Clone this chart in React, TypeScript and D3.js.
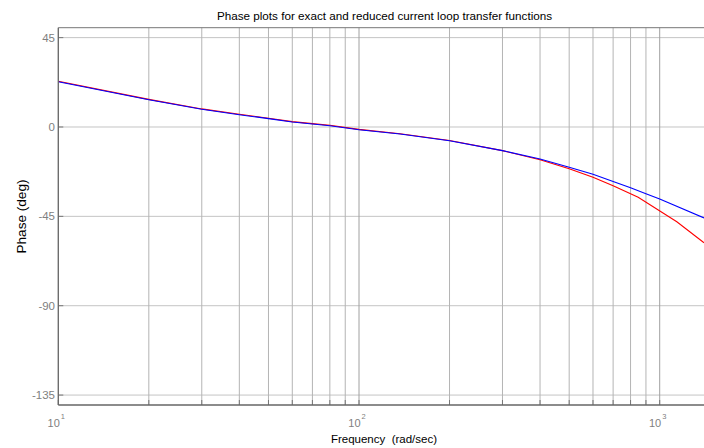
import React from "react";
import * as d3 from "d3";

const W = 704;
const H = 448;

const titleText = "Phase plots for exact and reduced current loop transfer functions";
const xLabelText = "Frequency  (rad/sec)";
const yLabelText = "Phase (deg)";

const yTicks = [45, 0, -45, -90, -135];
const xDecades = [10, 100, 1000];
const xDecadeExps = ["1", "2", "3"];
const xMinorTicks = [20, 30, 40, 50, 60, 70, 80, 90, 200, 300, 400, 500, 600, 700, 800, 900];

// blue curve
const freqBlue = [10, 20, 30, 40, 50, 60, 70, 80, 100, 137, 200, 300, 400, 500, 600, 700, 800, 900, 1000, 1404];
const phaseBlue = [22.8, 13.7, 8.9, 6.2, 4.2, 2.5, 1.5, 0.65, -1.4, -3.5, -6.9, -11.9, -16.1, -20.3, -23.8, -27.5, -30.6, -33.6, -36.3, -45.8];

// red curve
const freqRed = [10, 20, 30, 40, 50, 60, 70, 80, 100, 137, 200, 300, 400, 500, 600, 700, 848, 1140, 1404];
const phaseRed = [23.0, 13.9, 9.1, 6.4, 4.4, 2.7, 1.7, 0.85, -1.2, -3.4, -6.8, -11.9, -16.5, -21.0, -25.3, -29.6, -35.4, -47.7, -58.3];

export default function App() {
  const left = 58.3;
  const top = 27.7;
  const bottom = 405;
  const right = 710;

  const x = d3.scaleLog().domain([10, 1000]).range([left, 659.7]);
  const y = d3.scaleLinear().domain([-140, 50]).range([bottom, top]);

  const line = d3
    .line<[number, number]>()
    .x((d) => x(d[0]))
    .y((d) => y(d[1]));

  const blueData: [number, number][] = freqBlue.map((f, i) => [f, phaseBlue[i]]);
  const redData: [number, number][] = freqRed.map((f, i) => [f, phaseRed[i]]);

  const font = "'Liberation Sans', Arial, Helvetica, sans-serif";

  return (
    <svg
      width={W}
      height={H}
      style={{ position: "absolute", left: 0, top: 0, background: "#fff" }}
      fontFamily={font}
    >
      <defs>
        <clipPath id="plotclip">
          <rect x={left} y={top} width={right - left} height={bottom - top} />
        </clipPath>
      </defs>
      <rect x={0} y={0} width={W} height={H} fill="#fff" />

      {/* horizontal grid */}
      {yTicks.map((t) => (
        <line key={"hg" + t} x1={left} x2={W} y1={y(t)} y2={y(t)} stroke="#c4c4c4" strokeWidth={1} />
      ))}
      {/* vertical grid */}
      {xMinorTicks.map((t) => (
        <line key={"vg" + t} x1={x(t)} x2={x(t)} y1={top} y2={bottom} stroke="#b4b4b4" strokeWidth={1} />
      ))}
      {xDecades.map((t) => (
        <line key={"vd" + t} x1={x(t)} x2={x(t)} y1={top} y2={bottom} stroke="#a0a0a0" strokeWidth={1} />
      ))}

      {/* ticks */}
      {yTicks.map((t) => (
        <line key={"yt" + t} x1={left} x2={left + 5} y1={y(t)} y2={y(t)} stroke="#777" strokeWidth={1} />
      ))}
      {xMinorTicks.concat(xDecades).map((t) => (
        <line key={"xt" + t} x1={x(t)} x2={x(t)} y1={bottom} y2={bottom - 5} stroke="#777" strokeWidth={1} />
      ))}

      {/* curves */}
      <g clipPath="url(#plotclip)">
        <path d={line(redData) || ""} fill="none" stroke="#ff0000" strokeWidth={1.1} />
        <path d={line(blueData) || ""} fill="none" stroke="#0000ff" strokeWidth={1.1} />
      </g>

      {/* axes box */}
      <line x1={left} x2={W} y1={top} y2={top} stroke="#777" strokeWidth={1} />
      <line x1={left} x2={left} y1={top} y2={bottom} stroke="#666" strokeWidth={1.2} />
      <line x1={left} x2={W} y1={bottom} y2={bottom} stroke="#666" strokeWidth={1.6} />

      {/* y tick labels */}
      {yTicks.map((t) => (
        <text
          key={"yl" + t}
          x={55}
          y={y(t)}
          dy="0.36em"
          textAnchor="end"
          fontSize={11.5}
          fill="#808080"
        >
          {String(t)}
        </text>
      ))}

      {/* x tick labels */}
      {xDecades.map((t, i) => (
        <text key={"xl" + t} x={x(t) - 2} y={427} textAnchor="middle" fontSize={11} fill="#808080">
          10
          <tspan dx={1} dy={-8} fontSize={7.5}>
            {xDecadeExps[i]}
          </tspan>
        </text>
      ))}

      {/* title */}
      <text x={384.5} y={20} textAnchor="middle" fontSize={11.7} fill="#000">
        {titleText}
      </text>

      {/* x label */}
      <text x={384} y={443.3} textAnchor="middle" fontSize={11.5} fill="#000" style={{ whiteSpace: "pre" }}>
        {xLabelText}
      </text>

      {/* y label */}
      <text
        transform={`translate(25.5, 216.5) rotate(-90)`}
        textAnchor="middle"
        fontSize={12.5}
        fill="#000"
        textLength={74}
        lengthAdjust="spacingAndGlyphs"
      >
        {yLabelText}
      </text>
    </svg>
  );
}
